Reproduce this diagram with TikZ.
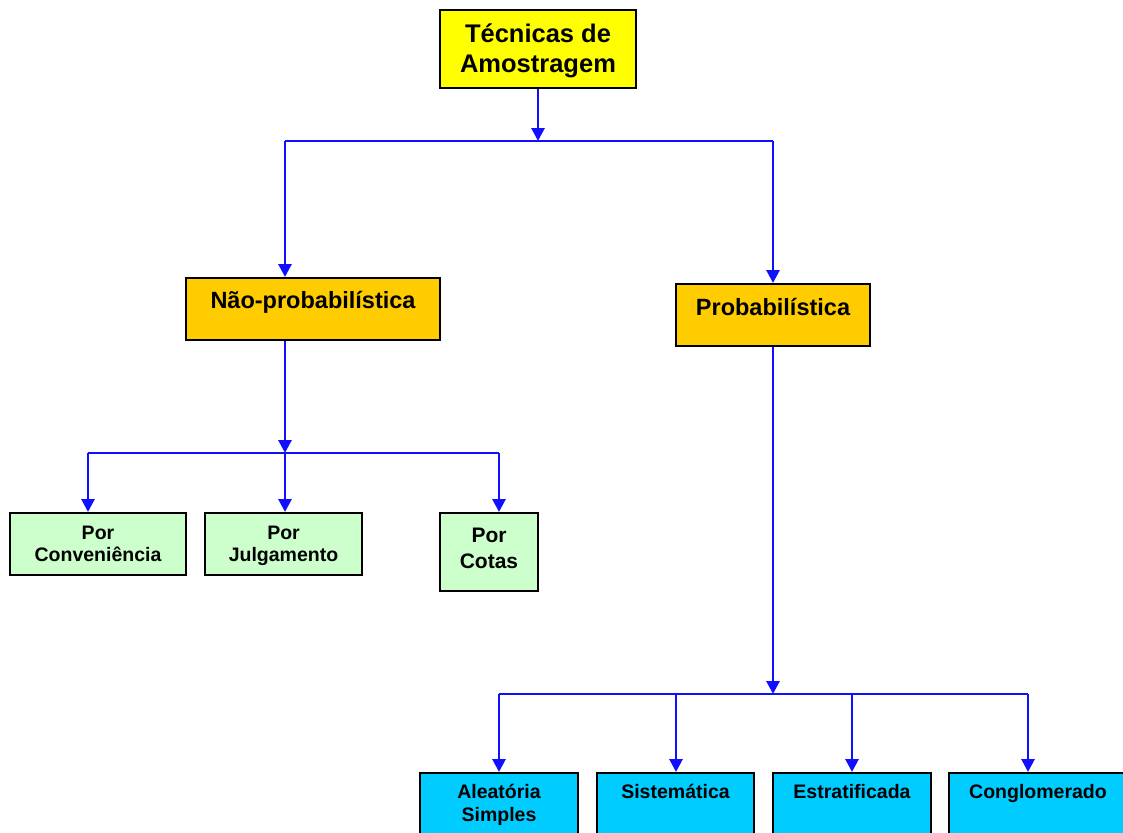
\documentclass[tikz,border=0pt]{standalone}
\usepackage{fontspec}
\setmainfont{Liberation Sans}
\usetikzlibrary{arrows.meta,calc}
\definecolor{topyel}{HTML}{FFFF00}
\definecolor{midor}{HTML}{FFCC00}
\definecolor{lgreen}{HTML}{CCFFCC}
\definecolor{cyanb}{HTML}{00CCFF}
\definecolor{linkblue}{HTML}{1010FF}
\begin{document}
\begin{tikzpicture}[x=1pt,y=-1pt,
  box/.style={draw=black,line width=2pt,inner sep=0pt,align=center,font=\bfseries},
  arr/.style={draw=linkblue,line width=2.8pt,-{Triangle[length=13pt,width=13pt]}},
  ln/.style={draw=linkblue,line width=2.8pt},
  txt/.style={inner sep=0pt,align=center,font=\bfseries}]
\useasboundingbox (0,0) rectangle (1123,832);
\clip (0,0) rectangle (1123,832);
% top
\node[box,fill=topyel,minimum width=196pt,minimum height=78pt] (tec) at (538,49) {};
\node[txt,font=\bfseries\fontsize{25.5}{30}\selectfont] (tect) at (538,51) {Técnicas de\\Amostragem};
% level 2
\node[box,fill=midor,minimum width=254pt,minimum height=62pt] (nao) at (313,309) {};
\node[txt,font=\bfseries\fontsize{23.5}{28}\selectfont] (naot) at (313,302) {Não-probabilística};
\node[box,fill=midor,minimum width=194pt,minimum height=62pt] (prob) at (773,315) {};
\node[txt,font=\bfseries\fontsize{23.5}{28}\selectfont] (probt) at (773,307) {Probabilística};
% level 3 left
\node[box,fill=lgreen,minimum width=176pt,minimum height=62pt] (conv) at (98,544) {};
\node[txt,anchor=north,font=\bfseries\fontsize{19.5}{22}\selectfont] (convt) at (98,526) {Por\\Conveniência};
\node[box,fill=lgreen,minimum width=157pt,minimum height=62pt] (julg) at (283.5,544) {};
\node[txt,anchor=north,font=\bfseries\fontsize{19.5}{22}\selectfont] (julgt) at (283.5,526) {Por\\Julgamento};
\node[box,fill=lgreen,minimum width=98pt,minimum height=78pt] (cot) at (489,552) {};
\node[txt,font=\bfseries\fontsize{21}{26}\selectfont] (cott) at (489,548) {Por\\Cotas};
% level 3 right
\node[box,fill=cyanb,minimum width=158pt,minimum height=100pt] (ale) at (499,823) {};
\node[box,fill=cyanb,minimum width=157pt,minimum height=100pt] (sis) at (675.5,823) {};
\node[box,fill=cyanb,minimum width=158pt,minimum height=100pt] (est) at (852,823) {};
\node[box,fill=cyanb,minimum width=180pt,minimum height=100pt] (con) at (1039,823) {};
\node[txt,anchor=north,font=\bfseries\fontsize{19.5}{23}\selectfont] (alet) at (499,784) {Aleatória\\Simples};
\node[txt,anchor=north,font=\bfseries\fontsize{19.5}{23}\selectfont] (sist) at (675.5,784) {Sistemática};
\node[txt,anchor=north,font=\bfseries\fontsize{19.5}{23}\selectfont] (estt) at (852,784) {Estratificada};
\node[txt,anchor=north,font=\bfseries\fontsize{19.5}{23}\selectfont] (cont) at (1038,784) {Conglomerado};
% junction coordinates
\coordinate (j1) at (538,141);
\coordinate (j1l) at (285,141);
\coordinate (j1r) at (773,141);
\coordinate (j2) at (285,453);
\coordinate (j2l) at (88,453);
\coordinate (j2r) at (499,453);
\coordinate (j3) at (773,694);
\coordinate (j3l) at (499,694);
\coordinate (j3a) at (676,694);
\coordinate (j3b) at (852,694);
\coordinate (j3r) at (1028,694);
% connectors
\draw[ln] (j1l) -- (j1r);
\draw[arr] (tec.south) -- (j1);
\draw[arr] (j1l) -- (nao.north -| j1l);
\draw[arr] (j1r) -- (prob.north);
\draw[ln] (j2l) -- (j2r);
\draw[arr] (nao.south -| j2) -- (j2);
\draw[arr] (j2l) -- (conv.north -| j2l);
\draw[arr] (j2) -- (julg.north -| j2);
\draw[arr] (j2r) -- (cot.north -| j2r);
\draw[ln] (j3l) -- (j3r);
\draw[arr] (prob.south) -- (j3);
\draw[arr] (j3l) -- (ale.north);
\draw[arr] (j3a) -- (sis.north -| j3a);
\draw[arr] (j3b) -- (est.north);
\draw[arr] (j3r) -- (con.north -| j3r);
\end{tikzpicture}
\end{document}
